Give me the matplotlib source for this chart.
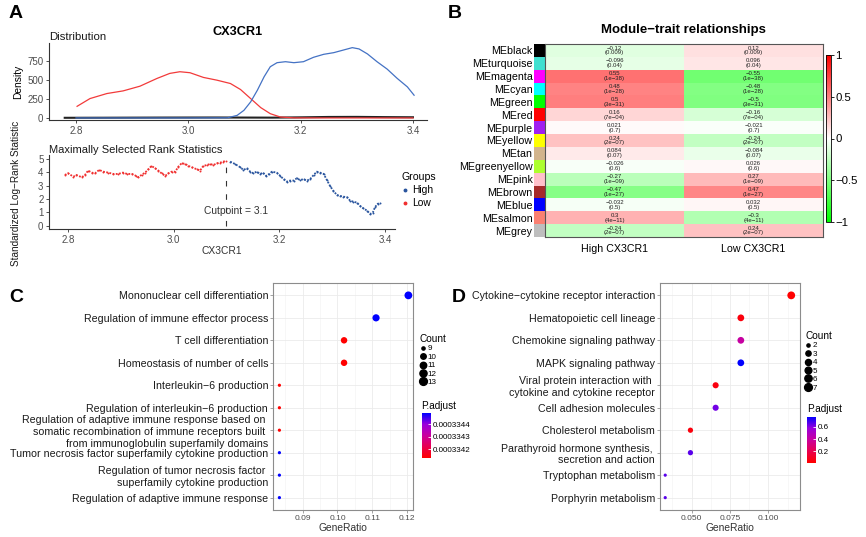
import numpy as np
import matplotlib
matplotlib.use("Agg")
import matplotlib.pyplot as plt
from matplotlib.colors import LinearSegmentedColormap, ListedColormap, Normalize
from matplotlib.lines import Line2D
from matplotlib.cm import ScalarMappable

plt.rcParams['font.family'] = ['Liberation Sans', 'DejaVu Sans']

W, H = 866, 537

# ---- A: density of CX3CR1 by group
low_dens_x = [2.802, 2.825, 2.855, 2.884, 2.914, 2.944, 2.967, 2.985, 3.003, 3.027, 3.051, 3.075,
              3.093, 3.111, 3.129, 3.146, 3.164, 3.188, 3.25, 3.32, 3.40]
low_dens_y = [154, 256, 322, 357, 419, 520, 587, 609, 596, 534, 498, 454,
              375, 256, 137, 57, 13, 2, 1, 1, 1]
high_dens_x = [2.80, 2.90, 3.00, 3.07, 3.087, 3.099, 3.111, 3.123, 3.135, 3.146, 3.158, 3.173, 3.188,
               3.205, 3.223, 3.241, 3.259, 3.277, 3.292, 3.304, 3.319, 3.336, 3.354, 3.372, 3.390, 3.402]
high_dens_y = [1, 1, 1, 3, 35, 101, 212, 366, 543, 675, 728, 741, 728,
               741, 799, 838, 860, 896, 926, 909, 843, 741, 644, 521, 410, 300]
all_dens_x = [2.78, 2.85, 2.95, 3.05, 3.15, 3.20, 3.25, 3.30, 3.35, 3.40]
all_dens_y = [3, 4, 6, 7, 5, 9, 14, 15, 12, 10]

# ---- A: maximally selected rank statistics
low_stat_x = [2.794, 2.800, 2.810, 2.816, 2.826, 2.832, 2.838, 2.845, 2.851, 2.859, 2.867, 2.876, 2.886,
              2.895, 2.904, 2.912, 2.921, 2.929, 2.933, 2.940, 2.946, 2.952, 2.958, 2.965, 2.971, 2.977,
              2.984, 2.990, 2.996, 3.003, 3.009, 3.015, 3.022, 3.028, 3.034, 3.044, 3.050, 3.056, 3.063,
              3.069, 3.075, 3.082, 3.088, 3.094, 3.099]
low_stat_y = [3.80, 3.93, 3.68, 3.80, 3.63, 3.80, 4.13, 3.98, 3.93, 4.18, 4.05, 3.98, 3.88,
              3.88, 3.98, 3.88, 3.88, 3.73, 3.63, 3.83, 3.98, 4.23, 4.48, 4.30, 4.13, 3.93,
              3.73, 3.93, 4.05, 4.05, 4.43, 4.68, 4.63, 4.48, 4.38, 4.23, 4.13, 4.48, 4.55,
              4.63, 4.55, 4.68, 4.73, 4.80, 4.88]
high_stat_x = [3.107, 3.116, 3.126, 3.132, 3.138, 3.145, 3.151, 3.157, 3.164, 3.169, 3.175, 3.181, 3.186,
               3.195, 3.202, 3.208, 3.214, 3.220, 3.227, 3.233, 3.239, 3.246, 3.252, 3.258, 3.265, 3.271,
               3.277, 3.284, 3.290, 3.296, 3.302, 3.309, 3.315, 3.321, 3.328, 3.334, 3.340, 3.347, 3.353,
               3.359, 3.366, 3.372, 3.377, 3.381, 3.386, 3.391]
high_stat_y = [4.80, 4.63, 4.38, 4.18, 4.30, 4.05, 3.93, 4.05, 3.88, 3.98, 3.73, 3.88, 4.05,
               3.98, 3.73, 3.48, 3.30, 3.38, 3.38, 3.55, 3.43, 3.48, 3.38, 3.48, 3.80, 4.05,
               3.98, 3.88, 3.43, 2.98, 2.63, 2.30, 2.23, 2.18, 2.13, 1.88, 1.80, 1.73, 1.48,
               1.30, 1.13, 0.88, 0.98, 1.38, 1.63, 1.73]
cutpoint = 3.1

# ---- B: module-trait relationships
modules = ['MEblack', 'MEturquoise', 'MEmagenta', 'MEcyan', 'MEgreen', 'MEred', 'MEpurple', 'MEyellow',
           'MEtan', 'MEgreenyellow', 'MEpink', 'MEbrown', 'MEblue', 'MEsalmon', 'MEgrey']
module_colors = ['#000000', '#40E0D0', '#FF00FF', '#00FFFF', '#00FF00', '#FF0000', '#A020F0', '#FFFF00',
                 '#D2B48C', '#ADFF2F', '#FFC0CB', '#A52A2A', '#0000FF', '#FA8072', '#BEBEBE']
cor_high = [-0.12, -0.096, 0.55, 0.48, 0.5, 0.16, 0.021, 0.24, 0.084, -0.026, -0.27, -0.47, -0.032, 0.3, -0.24]
cor_low = [0.12, 0.096, -0.55, -0.48, -0.5, -0.16, -0.021, -0.24, -0.084, 0.026, 0.27, 0.47, 0.032, -0.3, 0.24]
pvals = ['0.009', '0.04', '1e−38', '1e−28', '3e−31', '7e−04', '0.7', '2e−07', '0.07', '0.6',
         '1e−09', '1e−27', '0.5', '4e−11', '2e−07']
traits = ['High CX3CR1', 'Low CX3CR1']

# ---- C: GO enrichment
go_terms = ['Mononuclear cell differentiation',
            'Regulation of immune effector process',
            'T cell differentiation',
            'Homeostasis of number of cells',
            'Interleukin−6 production',
            'Regulation of interleukin−6 production',
            'Regulation of adaptive immune response based on \nsomatic recombination of immune receptors built \nfrom immunoglobulin superfamily domains',
            'Tumor necrosis factor superfamily cytokine production',
            'Regulation of tumor necrosis factor \nsuperfamily cytokine production',
            'Regulation of adaptive immune response']
go_count = [13, 12, 11, 11, 9, 9, 9, 9, 9, 9]
go_ratio = [0.1204, 0.1111, 0.1019, 0.1019, 0.0833, 0.0833, 0.0833, 0.0833, 0.0833, 0.0833]
go_padj = [0.00033449, 0.00033449, 0.00033413, 0.00033413, 0.00033413, 0.00033413, 0.00033413,
           0.00033449, 0.00033449, 0.00033449]

# ---- D: KEGG enrichment
kegg_terms = ['Cytokine−cytokine receptor interaction',
              'Hematopoietic cell lineage',
              'Chemokine signaling pathway',
              'MAPK signaling pathway',
              'Viral protein interaction with \ncytokine and cytokine receptor',
              'Cell adhesion molecules',
              'Cholesterol metabolism',
              'Parathyroid hormone synthesis, \nsecretion and action',
              'Tryptophan metabolism',
              'Porphyrin metabolism']
kegg_count = [7, 5, 5, 5, 4, 4, 3, 3, 2, 2]
kegg_ratio = [0.1148, 0.0820, 0.0820, 0.0820, 0.0656, 0.0656, 0.0492, 0.0492, 0.0328, 0.0328]
kegg_padj = [0.01, 0.04, 0.40, 0.77, 0.05, 0.63, 0.04, 0.66, 0.66, 0.66]


def box(l, t, r, b):
    return [l / W, 1 - b / H, (r - l) / W, (b - t) / H]


def dot_px(counts, lo, hi):
    c = np.asarray(counts, float)
    t = (c - lo) / (hi - lo)
    return 3.2 + 4.6 * np.sqrt(t)


fig = plt.figure(figsize=(W / 100, H / 100), dpi=100)

for lab, x, y in [('A', 16, 14), ('B', 455, 14), ('C', 16, 297), ('D', 459, 297)]:
    fig.text(x / W, 1 - y / H, lab, fontsize=14, weight='bold', ha='center', va='center')

# ---------------- A top
ax1 = fig.add_axes(box(49, 43, 427, 120))
ax1.plot(all_dens_x, all_dens_y, color='#222222', lw=1.5)
ax1.plot(low_dens_x, low_dens_y, color='#F23A3A', lw=0.9)
ax1.plot(high_dens_x, high_dens_y, color='#4472C4', lw=0.9)
ax1.set_xlim(2.752, 3.425)
ax1.set_ylim(-26, 987)
ax1.set_xticks([2.8, 3.0, 3.2, 3.4])
ax1.set_yticks([0, 250, 500, 750])
for s in ['top', 'right']:
    ax1.spines[s].set_visible(False)
for s in ['left', 'bottom']:
    ax1.spines[s].set_color('#333333')
    ax1.spines[s].set_linewidth(0.8)
ax1.tick_params(labelsize=7, labelcolor='#4D4D4D', length=2, width=0.6, color='#333333', pad=2)
ax1.set_ylabel('Density', fontsize=7.4, labelpad=3)
fig.text(49 / W, 1 - 37 / H, 'Distribution', fontsize=8.2, ha='left', va='center', color='#1a1a1a')
fig.text(238 / W, 1 - 32 / H, 'CX3CR1', fontsize=9.2, weight='bold', ha='center', va='center')

# ---------------- A bottom
ax2 = fig.add_axes(box(49, 155, 395, 229))
ax2.plot(low_stat_x, low_stat_y, color='#F03030', ls=(0, (1, 0.8)), lw=1.3, marker='o', ms=1.4, mew=0)
ax2.plot(high_stat_x, high_stat_y, color='#2A559E', ls=(0, (1, 0.8)), lw=1.3, marker='o', ms=1.4, mew=0)
ax2.vlines(cutpoint, 0, max(low_stat_y), colors='#333333', linestyles=(0, (5, 7)), lw=0.8)
ax2.text(cutpoint + 0.018, 1.1, 'Cutpoint = 3.1', fontsize=7.4, ha='center', va='center', color='#333333')
ax2.set_xlim(2.764, 3.419)
ax2.set_ylim(-0.25, 5.3)
ax2.set_xticks([2.8, 3.0, 3.2, 3.4])
ax2.set_yticks([0, 1, 2, 3, 4, 5])
for s in ['top', 'right']:
    ax2.spines[s].set_visible(False)
for s in ['left', 'bottom']:
    ax2.spines[s].set_color('#333333')
    ax2.spines[s].set_linewidth(0.8)
ax2.tick_params(labelsize=7, labelcolor='#4D4D4D', length=2, width=0.6, color='#333333', pad=2)
ax2.set_xlabel('CX3CR1', fontsize=7.4, labelpad=1, color='#333333')
fig.text(16 / W, 1 - 193 / H, 'Standardized Log−Rank Statistic', rotation=90, fontsize=7.2,
         ha='center', va='center', color='#1a1a1a')
fig.text(49 / W, 1 - 150 / H, 'Maximally Selected Rank Statistics', fontsize=8, ha='left', va='center',
         color='#1a1a1a')
grp_handles = [Line2D([], [], marker='o', ls='none', ms=1.8, color='#2A559E'),
               Line2D([], [], marker='o', ls='none', ms=1.8, color='#F03030')]
lg = fig.legend(grp_handles, ['High', 'Low'], title='Groups', loc='upper left',
                bbox_to_anchor=(396 / W, 1 - 167 / H), frameon=False, fontsize=7.4, title_fontsize=7.6,
                handlelength=0.8, handletextpad=0.3, labelspacing=0.3, borderpad=0, alignment='left')

# ---------------- B heatmap
gwr = LinearSegmentedColormap.from_list('gwr', ['#00FF00', '#FFFFFF', '#FF0000'])
axc = fig.add_axes(box(534, 44, 545, 237))
axc.imshow(np.arange(len(modules)).reshape(-1, 1), cmap=ListedColormap(module_colors), aspect='auto')
axc.set_xticks([])
axc.set_yticks(range(len(modules)))
axc.set_yticklabels(modules, fontsize=7.7)
axc.tick_params(length=0, pad=1)
for s in axc.spines.values():
    s.set_visible(False)

axh = fig.add_axes(box(545, 44, 823, 237))
mat = np.column_stack([cor_high, cor_low])
axh.imshow(mat, cmap=gwr, vmin=-1, vmax=1, aspect='auto')
for i in range(len(modules)):
    for j, col in enumerate([cor_high, cor_low]):
        axh.text(j, i, '%s\n(%s)' % (repr(col[i]).replace('-', '−'), pvals[i]), fontsize=4.3,
                 ha='center', va='center', linespacing=0.95, color='#222222')
axh.set_xticks([0, 1])
axh.set_xticklabels(traits, fontsize=7.7)
axh.set_yticks([])
axh.tick_params(length=0, pad=5)
for s in axh.spines.values():
    s.set_color('#555555')
    s.set_linewidth(0.8)
fig.text(683 / W, 1 - 30 / H, 'Module−trait relationships', fontsize=9.5, weight='bold', ha='center',
         va='center')
cbB = fig.add_axes(box(826, 55, 831, 222))
cb = fig.colorbar(ScalarMappable(Normalize(-1, 1), gwr), cax=cbB)
cb.set_ticks([-1, -0.5, 0, 0.5, 1])
cb.set_ticklabels(['−1', '−0.5', '0', '0.5', '1'])
cbB.tick_params(labelsize=8.2, length=2, width=0.6, pad=1)
cb.outline.set_linewidth(0.6)

# ---------------- C / D dot plots
padj_cmap = LinearSegmentedColormap.from_list('rb', ['#FF0000', '#E8004F', '#C9009E', '#9A00DC', '#0000FF'])


def dotplot(rect, terms, ratio, count, padj, xlim, majors, minors, fmt):
    ax = fig.add_axes(box(*rect))
    ypos = np.arange(len(terms))
    norm = Normalize(min(padj), max(padj))
    d = dot_px(count, min(count), max(count)) * 0.72
    ax.scatter(ratio, ypos, s=d ** 2, c=padj, cmap=padj_cmap, norm=norm, linewidths=0, zorder=3)
    ax.set_xlim(*xlim)
    ax.set_ylim(len(terms) - 0.45, -0.55)
    ax.set_yticks(ypos)
    ax.set_yticklabels(terms, fontsize=7.7, color='#1a1a1a')
    ax.set_xticks(majors)
    ax.set_xticklabels([fmt % v for v in majors])
    ax.set_xticks(minors, minor=True)
    ax.grid(True, which='major', color='#EBEBEB', lw=0.6)
    ax.grid(True, which='minor', axis='x', color='#F2F2F2', lw=0.4)
    ax.set_axisbelow(True)
    ax.tick_params(axis='x', labelsize=6, labelcolor='#4D4D4D', length=2, width=0.5, color='#7F7F7F', pad=1.5)
    ax.tick_params(axis='y', length=2, width=0.5, color='#7F7F7F', pad=1.5)
    ax.tick_params(which='minor', length=0)
    for s in ax.spines.values():
        s.set_color('#8C8C8C')
        s.set_linewidth(0.8)
    ax.set_xlabel('GeneRatio', fontsize=7.4, labelpad=0.5, color='#333333')
    return ax, norm


axC, normC = dotplot((273, 283, 413, 510), go_terms, go_ratio, go_count, go_padj,
                     (0.08146, 0.12173), [0.09, 0.10, 0.11, 0.12], [0.085, 0.095, 0.105, 0.115], '%.2f')
axD, normD = dotplot((660, 283, 800, 510), kegg_terms, kegg_ratio, kegg_count, kegg_padj,
                     (0.0294, 0.1205), [0.050, 0.075, 0.100], [0.0375, 0.0625, 0.0875, 0.1125], '%.3f')


def legends(counts, anchor, ptitle, cbox, norm, ticks, tick_fmt):
    cs = list(range(min(counts), max(counts) + 1))
    d = dot_px(cs, min(counts), max(counts)) * 0.72
    handles = [Line2D([], [], marker='o', ls='none', color='black', ms=m) for m in d]
    fig.legend(handles, [str(c) for c in cs], title='Count', loc='upper left',
               bbox_to_anchor=(anchor[0] / W, 1 - anchor[1] / H), frameon=False, fontsize=5.8,
               title_fontsize=7.2, handlelength=0.7, handletextpad=0.25, labelspacing=0.1,
               borderpad=0, borderaxespad=0, alignment='left')
    fig.text(ptitle[0] / W, 1 - ptitle[1] / H, 'P.adjust', fontsize=7.2, ha='left', va='center')
    cax = fig.add_axes(box(*cbox))
    c = fig.colorbar(ScalarMappable(norm, padj_cmap), cax=cax)
    c.outline.set_visible(False)
    c.set_ticks(ticks)
    c.set_ticklabels([tick_fmt % t for t in ticks])
    cax.tick_params(labelsize=5.8, length=2, width=0.6, color='white', direction='in', pad=1.5)


legends(go_count, (420, 334), (421, 406), (421.7, 413, 430.7, 458), normC,
        [0.0003342, 0.0003343, 0.0003344], '%.7f')
legends(kegg_count, (805, 331), (807, 409), (807, 416.7, 816, 462.7), normD,
        [0.2, 0.4, 0.6], '%.1f')

fig.savefig('out.png', dpi=100)
